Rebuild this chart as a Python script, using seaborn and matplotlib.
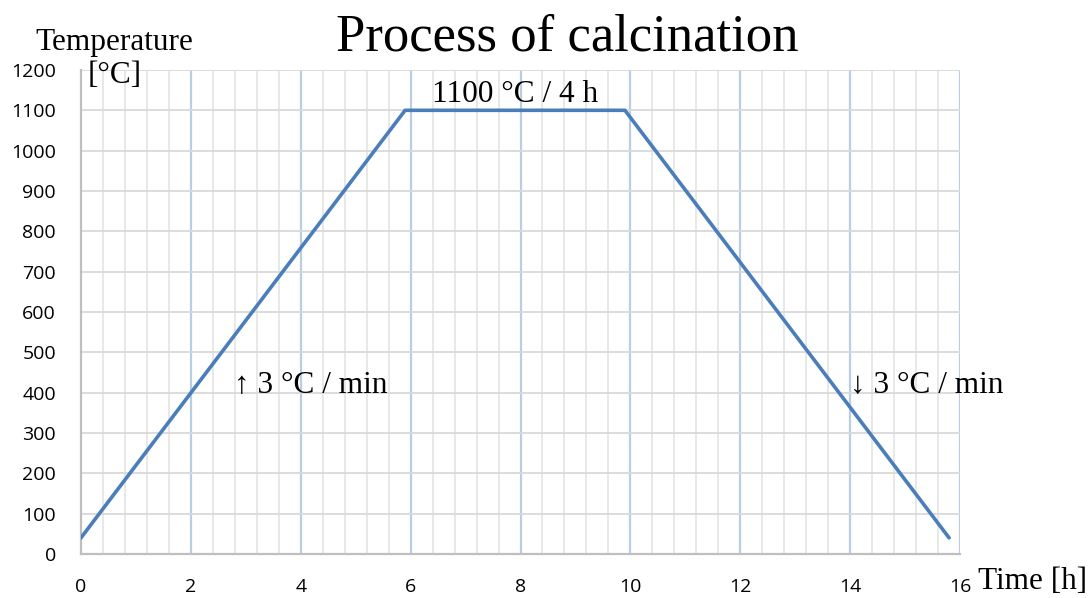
import numpy as np
import pandas as pd
import seaborn as sns
import matplotlib.pyplot as plt

# 데이터 ==============================================
time_h = [0, 5.9, 9.9, 15.8]
temp_c = [40, 1100, 1100, 40]
x_ticks = [0, 2, 4, 6, 8, 10, 12, 14, 16]
y_ticks = [0, 100, 200, 300, 400, 500, 600, 700, 800, 900, 1000, 1100, 1200]

df = pd.DataFrame({'time': time_h, 'temp': temp_c})

sns.set_style('white')
plt.rcParams['font.family'] = ['Open Sans', 'DejaVu Sans']
plt.rcParams['text.color'] = 'black'
serif = ['Liberation Serif', 'DejaVu Serif']

fig = plt.figure(figsize=(10.91, 5.98), dpi=100)
ax = fig.add_axes([0.0742, 0.0736, 0.8058, 0.8094])

# 격자선
for x in np.arange(0.4, 16, 0.4):
    if abs(x / 2 - round(x / 2)) > 1e-6:
        ax.axvline(x, color='#e6e6e6', lw=1.3, zorder=0)
for x in x_ticks[1:]:
    ax.axvline(x, color='#b9cde5', lw=1.6, zorder=1)
for y in y_ticks[1:]:
    ax.axhline(y, color='#d9d9d9', lw=1.3, zorder=1)

sns.lineplot(data=df, x='time', y='temp', color='#4a7ebb', lw=2.6, ax=ax,
             sort=False, zorder=3)

ax.set_xlim(0, 16)
ax.set_ylim(0, 1200)
ax.set_xticks(x_ticks)
ax.set_yticks(y_ticks)
ax.tick_params(axis='both', length=0, labelsize=14, colors='black')
ax.tick_params(axis='y', pad=18)
ax.tick_params(axis='x', pad=17)
ax.set_xlabel('')
ax.set_ylabel('')

for s in ['top', 'right']:
    ax.spines[s].set_visible(False)
for s in ['left', 'bottom']:
    ax.spines[s].set_color('#bfbfbf')
    ax.spines[s].set_linewidth(1.6)

# 텍스트
fig.text(0.52, 0.938, 'Process of calcination', ha='center', va='center',
         fontsize=38, family=serif)
fig.text(0.032, 0.929, 'Temperature', ha='left', va='center', fontsize=22.5, family=serif)
fig.text(0.080, 0.873, '[°C]', ha='left', va='center', fontsize=22.5, family=serif)
fig.text(0.896, 0.027, 'Time [h]', ha='left', va='center', fontsize=22.5, family=serif)
ax.text(7.9, 1138, '1100 °C / 4 h', ha='center', va='center', fontsize=22.5, family=serif)
ax.text(2.78, 418, '↑ 3 °C / min', ha='left', va='center', fontsize=22.5, family=serif)
ax.text(14.0, 418, '↓ 3 °C / min', ha='left', va='center', fontsize=22.5, family=serif)

plt.savefig('out.png', dpi=100)
